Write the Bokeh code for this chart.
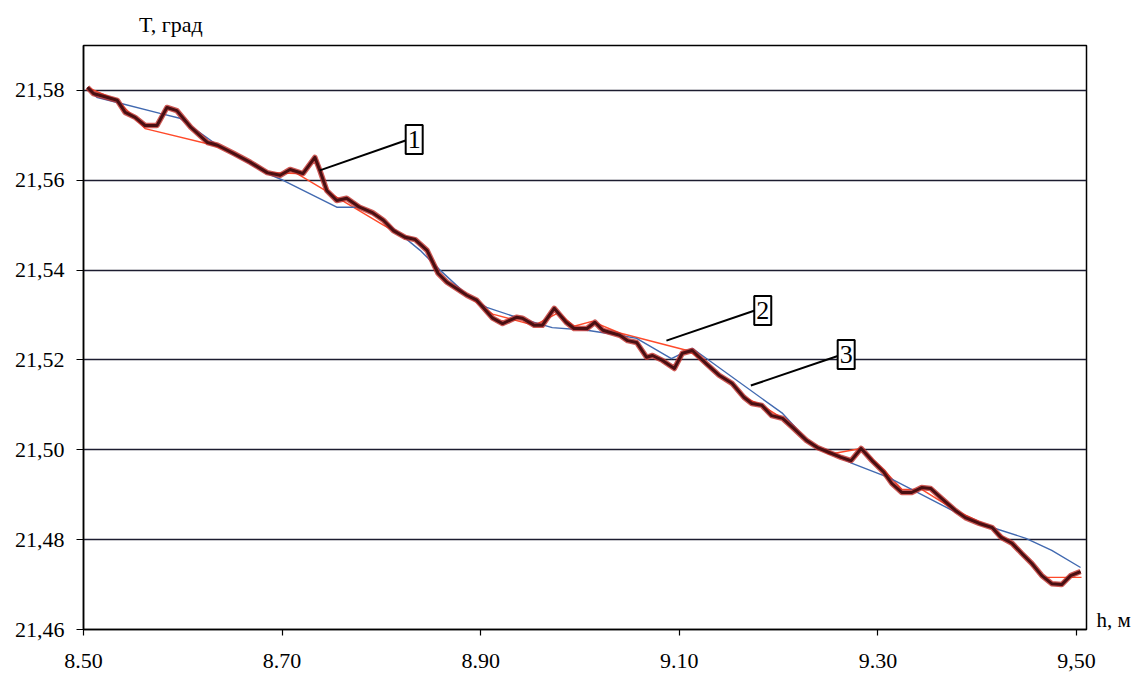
from bokeh.plotting import figure
from bokeh.models import Range1d, FixedTicker, Label, LinearAxis
from bokeh.embed import file_html
from bokeh.resources import INLINE

# Depth h (m) and temperature T (deg) - measured profile (curve 1)
h_meas = [8.504, 8.510, 8.534, 8.542, 8.552, 8.562, 8.574, 8.584, 8.594, 8.608,
          8.625, 8.635, 8.651, 8.668, 8.685, 8.698, 8.708, 8.721, 8.733, 8.738,
          8.745, 8.755, 8.765, 8.778, 8.791, 8.802, 8.812, 8.824, 8.834, 8.846,
          8.857, 8.866, 8.886, 8.896, 8.912, 8.922, 8.936, 8.942, 8.954, 8.962,
          8.974, 8.986, 8.994, 9.007, 9.015, 9.023, 9.040, 9.048, 9.057, 9.067,
          9.073, 9.083, 9.095, 9.103, 9.113, 9.127, 9.140, 9.153, 9.165, 9.173,
          9.183, 9.193, 9.204, 9.214, 9.228, 9.239, 9.251, 9.263, 9.273, 9.283,
          9.294, 9.306, 9.314, 9.324, 9.334, 9.344, 9.353, 9.364, 9.378, 9.388,
          9.402, 9.415, 9.424, 9.435, 9.445, 9.455, 9.465, 9.475, 9.485, 9.494,
          9.504]
t_meas = [21.5807, 21.5793, 21.5778, 21.5751, 21.5740, 21.5722, 21.5722, 21.5762, 21.5755, 21.5718,
          21.5684, 21.5678, 21.5660, 21.5640, 21.5617, 21.5611, 21.5624, 21.5615, 21.5651, 21.5622,
          21.5577, 21.5555, 21.5560, 21.5540, 21.5528, 21.5511, 21.5488, 21.5473, 21.5468, 21.5444,
          21.5393, 21.5373, 21.5344, 21.5333, 21.5293, 21.5281, 21.5295, 21.5293, 21.5277, 21.5277,
          21.5315, 21.5284, 21.5270, 21.5270, 21.5284, 21.5266, 21.5255, 21.5243, 21.5239, 21.5206,
          21.5210, 21.5199, 21.5181, 21.5215, 21.5221, 21.5192, 21.5166, 21.5148, 21.5117, 21.5103,
          21.5099, 21.5076, 21.5070, 21.5050, 21.5021, 21.5005, 21.4994, 21.4983, 21.4976, 21.5003,
          21.4976, 21.4950, 21.4925, 21.4905, 21.4905, 21.4916, 21.4914, 21.4892, 21.4865, 21.4849,
          21.4836, 21.4827, 21.4805, 21.4792, 21.4769, 21.4747, 21.4720, 21.4702, 21.4700, 21.4720,
          21.4729]

# Piecewise approximation (curve 2)
h_piece = [8.504, 8.534, 8.562, 8.631, 8.651, 8.668, 8.685, 8.715, 8.802, 8.824,
           8.834, 8.846, 8.857, 8.866, 8.886, 8.912, 8.954, 8.978, 8.994, 9.012,
           9.040, 9.110, 9.127, 9.140, 9.153, 9.165, 9.183, 9.204, 9.228, 9.251,
           9.283, 9.306, 9.324, 9.344, 9.378, 9.415, 9.445, 9.467, 9.505]
t_piece = [21.5807, 21.5778, 21.5715, 21.5678, 21.5660, 21.5640, 21.5617, 21.5615, 21.5500, 21.5473,
           21.5468, 21.5444, 21.5393, 21.5373, 21.5344, 21.5302, 21.5277, 21.5305, 21.5275, 21.5286,
           21.5260, 21.5220, 21.5192, 21.5166, 21.5148, 21.5117, 21.5099, 21.5070, 21.5021, 21.4990,
           21.5003, 21.4955, 21.4912, 21.4912, 21.4865, 21.4827, 21.4769, 21.4716, 21.4716]

# Smoothed approximation (curve 3)
h_smooth = [8.504, 8.514, 8.534, 8.577, 8.597, 8.635, 8.685, 8.701, 8.755, 8.778,
            8.802, 8.839, 8.859, 8.889, 8.906, 8.936, 8.972, 9.007, 9.040, 9.057,
            9.092, 9.113, 9.204, 9.231, 9.274, 9.311, 9.381, 9.415, 9.449, 9.475,
            9.504]
t_smooth = [21.5804, 21.5784, 21.5773, 21.5749, 21.5738, 21.5678, 21.5615, 21.5600, 21.5540, 21.5540,
            21.5511, 21.5444, 21.5400, 21.5339, 21.5317, 21.5295, 21.5272, 21.5266, 21.5255, 21.5248,
            21.5203, 21.5226, 21.5081, 21.5016, 21.4970, 21.4938, 21.4858, 21.4827, 21.4803, 21.4776,
            21.4738]

# Axis ticks
x_ticks = [8.50, 8.70, 8.90, 9.10, 9.30, 9.50]
x_tick_labels = ["8.50", "8.70", "8.90", "9.10", "9.30", "9,50"]
y_ticks = [21.46, 21.48, 21.50, 21.52, 21.54, 21.56, 21.58]
y_tick_labels = ["21,46", "21,48", "21,50", "21,52", "21,54", "21,56", "21,58"]

# Axis titles and where they sit along their axes
y_title = "T, град"
y_title_at = 8.588
x_title = "h, м"
x_title_at = 21.4622

# Curve callouts: tag, point on curve, box position
callout_tags = ["1", "2", "3"]
callout_from_h = [8.738, 9.087, 9.172]
callout_from_t = [21.5622, 21.5243, 21.5143]
callout_to_h = [8.825, 9.176, 9.261]
callout_to_t = [21.5689, 21.5310, 21.5210]
callout_box_h = [8.833, 9.184, 9.268]
callout_box_t = [21.5691, 21.5310, 21.5212]

FONT = "Liberation Serif"

p = figure(width=1133, height=679, output_backend="svg", toolbar_location=None,
           x_range=Range1d(8.50, 9.51), y_range=Range1d(21.46, 21.59))
p.min_border_left = 83
p.min_border_right = 45
p.min_border_top = 45
p.min_border_bottom = 50
p.background_fill_color = "white"
p.border_fill_color = "white"
p.outline_line_color = "black"
p.outline_line_width = 1.5

p.xgrid.visible = False
p.ygrid.ticker = FixedTicker(ticks=y_ticks[1:])
p.ygrid.grid_line_color = "#1c1c30"
p.ygrid.grid_line_width = 1.3

p.xaxis.ticker = FixedTicker(ticks=x_ticks)
p.xaxis.major_label_overrides = dict(zip(x_ticks, x_tick_labels))
p.yaxis.ticker = FixedTicker(ticks=y_ticks)
p.yaxis.major_label_overrides = dict(zip(y_ticks, y_tick_labels))

for ax in (p.xaxis[0], p.yaxis[0]):
    ax.axis_line_color = "black"
    ax.axis_line_width = 1.5
    ax.major_tick_line_color = "black"
    ax.major_tick_line_width = 1.2
    ax.minor_tick_line_color = None
    ax.major_tick_in = 0
    ax.major_label_text_font = FONT
    ax.major_label_text_font_size = "22px"
    ax.major_label_text_color = "black"

p.xaxis[0].major_tick_out = 6
p.xaxis[0].major_label_standoff = 18
p.yaxis[0].major_tick_out = 7
p.yaxis[0].major_label_standoff = 12

# Axis titles drawn as single-label axes so they sit outside the frame
title_top = LinearAxis(ticker=FixedTicker(ticks=[y_title_at]),
                       major_label_overrides={y_title_at: y_title},
                       axis_line_color=None, major_tick_line_color=None,
                       minor_tick_line_color=None, major_label_standoff=3,
                       major_label_text_font=FONT, major_label_text_font_size="22px",
                       major_label_text_color="black")
p.add_layout(title_top, "above")

title_right = LinearAxis(ticker=FixedTicker(ticks=[x_title_at]),
                         major_label_overrides={x_title_at: x_title},
                         axis_line_color=None, major_tick_line_color=None,
                         minor_tick_line_color=None, major_label_standoff=4,
                         major_label_text_font=FONT, major_label_text_font_size="21px",
                         major_label_text_color="black")
p.add_layout(title_right, "right")

# Curve 2 (piecewise) and curve 3 (smoothed)
p.line(h_piece, t_piece, line_color="#ff4a2a", line_width=1.4)
p.line(h_smooth, t_smooth, line_color="#4169b0", line_width=1.4)

# Curve 1 (measured): dark core with a red edge
p.line(h_meas, t_meas, line_color="#c0302a", line_width=5.5, line_join="round", line_alpha=0.8)
p.line(h_meas, t_meas, line_color="#4a0f12", line_width=3, line_join="round")

# Callout leaders and tags
for i in range(len(callout_tags)):
    p.line([callout_from_h[i], callout_to_h[i]], [callout_from_t[i], callout_to_t[i]],
           line_color="black", line_width=2)
    p.add_layout(Label(x=callout_box_h[i], y=callout_box_t[i], text=callout_tags[i],
                       text_font=FONT, text_font_size="26px", text_color="black",
                       text_align="center", text_baseline="middle",
                       border_line_color="black", border_line_width=2,
                       background_fill_color="white",
                       padding=dict(left=2, right=2, top=6, bottom=6)))

open("out.html", "w").write(file_html(p, INLINE))
